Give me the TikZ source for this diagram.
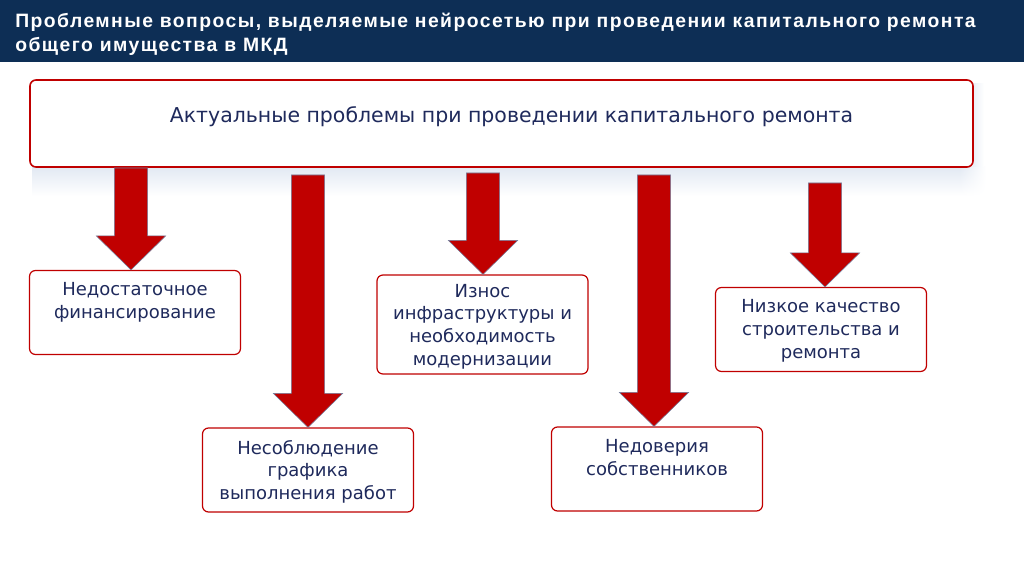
\documentclass[tikz,border=0pt]{standalone}
\usepackage{fontspec}
\setmainfont{DejaVu Sans}
\newfontfamily\headfont[LetterSpace=7.5]{Liberation Sans}
\usetikzlibrary{positioning,calc,fadings}

\definecolor{navy}{HTML}{0D2E55}
\definecolor{boxred}{HTML}{C00000}
\definecolor{txtblue}{HTML}{1F2A5C}
\definecolor{shadowblue}{HTML}{E2E9F3}
\definecolor{arrowedge}{HTML}{7080A0}

% block arrow: shaft from a start point down, tip on top of a box
\newcommand{\redarrow}[2]{%
  \filldraw[redarrow] let \p1=(#1), \p2=(#2.north) in
    (\x1-12.4pt,\y1) -- (\x1+12.4pt,\y1) -- (\x1+12.4pt,\y2+25.5pt)
    -- (\x1+26pt,\y2+25.5pt) -- (\x1,\y2) -- (\x1-26pt,\y2+25.5pt)
    -- (\x1-12.4pt,\y2+25.5pt) -- cycle;}

\begin{document}
\begin{tikzpicture}[x=0.75pt,y=-0.75pt,
  probbox/.style={draw=boxred,line width=0.9pt,rounded corners=4.5pt,fill=white,
    minimum width=158.25pt,minimum height=63pt,inner sep=0pt},
  boxtext/.style={text=txtblue,align=center,inner sep=0pt,anchor=north,
    font=\fontsize{13.5}{17}\selectfont},
  redarrow/.style={fill=boxred,draw=arrowedge,line width=0.4pt}]
\useasboundingbox (0,0) rectangle (1024,574);
% header band
\fill[navy] (0,0) rectangle (1024,62);
\node[anchor=north west,inner sep=0pt,text=white,align=left,
  font=\headfont\bfseries\fontsize{14.5}{18}\selectfont] (title) at (15,13)
  {Проблемные вопросы, выделяемые нейросетью при проведении капитального ремонта\\
   общего имущества в МКД};
% shadow under the top box
\shade[top color=shadowblue,bottom color=white] (32,167) rectangle (960,196);
\shade[top color=shadowblue,bottom color=white,path fading=east] (960,167) rectangle (986,196);
\shade[left color=shadowblue!70,right color=white] (973,84) rectangle (984,167);
\node[probbox,line width=1.2pt,minimum width=707.25pt,minimum height=65.25pt] (top) at (501.5,123.5) {};
\node[text=txtblue,anchor=base,inner sep=0pt,font=\fontsize{15.35}{18}\selectfont] (toptext) at (511.5,123)
  {Актуальные проблемы при проведении капитального ремонта};

% problem boxes
\node[probbox] (b1) at (135,312.5) {};
\node[probbox] (b2) at (308,470) {};
\node[probbox,minimum height=74.25pt] (b3) at (482.5,324.5) {};
\node[probbox] (b4) at (657,469) {};
\node[probbox] (b5) at (821,329.5) {};

\node[boxtext] (t1) at ([yshift=-9.5pt]b1.north) {Недостаточное\\финансирование};
\node[boxtext] (t2) at ([yshift=-9.5pt]b2.north) {Несоблюдение\\графика\\выполнения работ};
\node[boxtext] (t3) at ([yshift=-7pt]b3.north) {Износ\\инфраструктуры и\\необходимость\\модернизации};
\node[boxtext] (t4) at ([yshift=-9.5pt]b4.north) {Недоверия\\собственников};
\node[boxtext] (t5) at ([yshift=-9.5pt]b5.north) {Низкое качество\\строительства и\\ремонта};

% arrows
\coordinate (s1) at (131,168);
\coordinate (s2) at (308,175);
\coordinate (s3) at (483,173);
\coordinate (s4) at (654,175);
\coordinate (s5) at (825,183);
\redarrow{s1}{b1}
\redarrow{s2}{b2}
\redarrow{s3}{b3}
\redarrow{s4}{b4}
\redarrow{s5}{b5}
\end{tikzpicture}
\end{document}
